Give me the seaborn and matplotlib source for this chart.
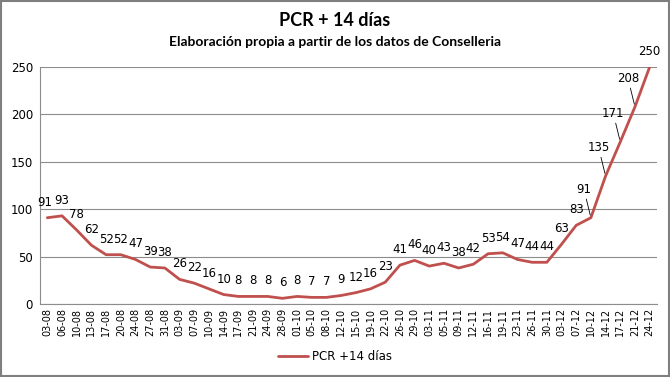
import numpy as np
import pandas as pd
import matplotlib
matplotlib.use("Agg")
import matplotlib.pyplot as plt
from matplotlib.patches import Rectangle
import seaborn as sns

fechas = ["03-08", "06-08", "10-08", "13-08", "17-08", "20-08", "24-08", "27-08",
          "31-08", "03-09", "07-09", "10-09", "14-09", "17-09", "21-09", "24-09",
          "28-09", "01-10", "05-10", "08-10", "12-10", "15-10", "19-10", "22-10",
          "26-10", "29-10", "03-11", "05-11", "09-11", "12-11", "16-11", "19-11",
          "23-11", "26-11", "30-11", "03-12", "07-12", "10-12", "14-12", "17-12",
          "21-12", "24-12"]
pcr = [91, 93, 78, 62, 52, 52, 47, 39, 38, 26, 22, 16, 10, 8, 8, 8, 6, 8, 7, 7,
       9, 12, 16, 23, 41, 46, 40, 43, 38, 42, 53, 54, 47, 44, 44, 63, 83, 91,
       135, 171, 208, 250]
y_ticks = [0, 50, 100, 150, 200, 250]

# labels with a leader line (placed up-left of the point)
leader_idx = [37, 38, 39, 40]

df = pd.DataFrame({"pos": np.arange(len(fechas)), "valor": pcr})

sns.set_style("white")
plt.rcParams["font.family"] = ["DejaVu Sans"]
plt.rcParams["text.color"] = "black"
plt.rcParams["xtick.color"] = "black"
plt.rcParams["ytick.color"] = "black"

fig = plt.figure(figsize=(6.7, 3.77), dpi=100)
ax = fig.add_axes([0.0597, 0.1936, 0.9209, 0.6287])

sns.lineplot(data=df, x="pos", y="valor", ax=ax, color="#C0504D",
             linewidth=2.0, label="PCR +14 días", legend=False)

ax.set_xlim(-0.5, len(fechas) - 0.5)
ax.set_ylim(0, 250)
ax.set_yticks(y_ticks)
ax.set_yticklabels([str(v) for v in y_ticks], fontsize=8.5)
ax.set_xticks(df["pos"])
ax.set_xticklabels(fechas, rotation=90, fontsize=7)
ax.set_xlabel("")
ax.set_ylabel("")
ax.yaxis.grid(True, color="#8c8c8c", linewidth=0.8)
for s in ["top", "right"]:
    ax.spines[s].set_visible(False)
for s in ["left", "bottom"]:
    ax.spines[s].set_color("#8c8c8c")
    ax.spines[s].set_linewidth(0.8)
ax.tick_params(axis="y", length=3, color="#8c8c8c", labelcolor="black", pad=2)
ax.tick_params(axis="x", length=0, labelcolor="black", pad=3)

for i, v in enumerate(pcr):
    if i in leader_idx:
        ax.annotate(str(v), xy=(i, v), xytext=(-7, 22), textcoords="offset pixels",
                    ha="center", va="bottom", fontsize=8.5, color="black",
                    arrowprops=dict(arrowstyle="-", color="black", lw=0.6,
                                    shrinkA=0, shrinkB=2))
    else:
        dx = -3 if i == 0 else 0
        ax.annotate(str(v), xy=(i, v), xytext=(dx, 9), textcoords="offset pixels",
                    ha="center", va="bottom", fontsize=8.5, color="black")

fig.text(0.5, 1 - 20 / 377, "PCR + 14 días", ha="center", va="center",
         fontsize=13, fontweight="bold", color="black",
         family=["Lato", "DejaVu Sans"])
fig.text(0.5, 1 - 42 / 377, "Elaboración propia a partir de los datos de Conselleria",
         ha="center", va="center", fontsize=10, fontweight="bold", color="black",
         family=["Lato", "DejaVu Sans"])

handles, labels = ax.get_legend_handles_labels()
fig.legend(handles, labels, loc="center", bbox_to_anchor=(0.5, 1 - 357 / 377),
           frameon=False, fontsize=8.5, handlelength=2.5, handletextpad=0.3)

fig.patches.append(Rectangle((0.001, 0.002), 0.997, 0.996, transform=fig.transFigure,
                             fill=False, edgecolor="#7f7f7f", linewidth=1.5))

fig.savefig("out.png", dpi=100)
